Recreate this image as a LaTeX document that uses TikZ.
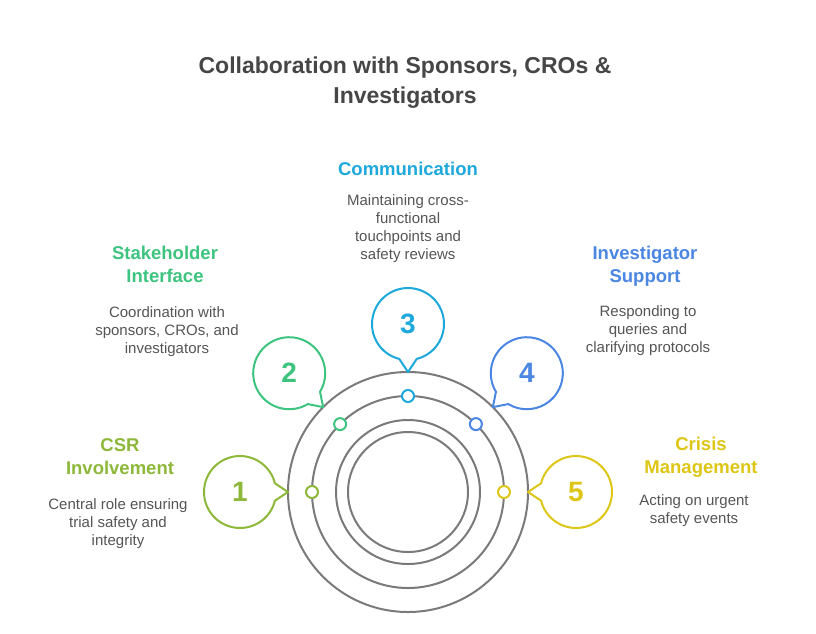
\documentclass[tikz,border=0pt]{standalone}
\usepackage{fontspec}
\setmainfont{Liberation Sans}
\definecolor{cA}{HTML}{8DB83A}
\definecolor{cB}{HTML}{3DC47E}
\definecolor{cC}{HTML}{1DA9DB}
\definecolor{cD}{HTML}{4A86E2}
\definecolor{cE}{HTML}{DDC616}
\definecolor{ringgray}{HTML}{7A7A7A}
\definecolor{titlegray}{HTML}{464646}
\definecolor{descgray}{HTML}{555555}
\tikzset{
  ring/.style={draw=ringgray, line width=2pt},
  balloon/.style={line width=2pt, fill=white, line join=round},
  dot/.style={line width=2pt, fill=white},
  num/.style={font=\fontsize{28}{30}\selectfont\bfseries, inner sep=0pt},
  head/.style={font=\fontsize{18.5}{23}\selectfont\bfseries, align=center, anchor=base, inner sep=0pt},
  desc/.style={font=\fontsize{15}{17.7}\selectfont, text=descgray, align=center, anchor=base, inner sep=0pt},
  ttl/.style={font=\fontsize{23}{30}\selectfont\bfseries, text=titlegray, align=center, anchor=base, inner sep=0pt}
}
\begin{document}
\begin{tikzpicture}[x=1pt,y=-1pt]
\useasboundingbox[fill=white] (0,0) rectangle (816,633);
\node[ttl] (title) at (405,103) {Collaboration with Sponsors, CROs \&\\Investigators};
\coordinate (M) at (408,492);
\draw[ring] (M) circle[radius=120];
\draw[ring] (M) circle[radius=96];
\draw[ring] (M) circle[radius=72];
\draw[ring] (M) circle[radius=60];
\foreach \i/\a/\c in {1/180/cA, 2/225/cB, 3/270/cC, 4/315/cD, 5/0/cE}{
  \coordinate (B\i) at ([shift={(\a:168)}]M);
  \coordinate (T\i) at ([shift={(\a:120)}]M);
  \draw[balloon, draw=\c, shift={(B\i)}] ({\a+194}:36) arc[start angle={\a+194}, end angle={\a+526}, radius=36] -- (T\i) -- cycle;
  \node[num, text=\c] (N\i) at (B\i) {\i};
  \draw[dot, draw=\c] ([shift={(\a:96)}]M) circle[radius=6];
}
\node[head, text=cA] (h1) at (120,474) {CSR\\Involvement};
\node[desc] (d1) at (118,545) {Central role ensuring\\trial safety and\\integrity};
\node[head, text=cB] (h2) at (165,282) {Stakeholder\\Interface};
\node[desc] (d2) at (167,353) {Coordination with\\sponsors, CROs, and\\investigators};
\node[head, text=cC] (h3) at (408,175) {Communication};
\node[desc] (d3) at (408,259) {Maintaining cross-\\functional\\touchpoints and\\safety reviews};
\node[head, text=cD] (h4) at (645,282) {Investigator\\Support};
\node[desc] (d4) at (648,352) {Responding to\\queries and\\clarifying protocols};
\node[head, text=cE] (h5) at (701,473) {Crisis\\Management};
\node[desc] (d5) at (694,523) {Acting on urgent\\safety events};
\end{tikzpicture}
\end{document}
